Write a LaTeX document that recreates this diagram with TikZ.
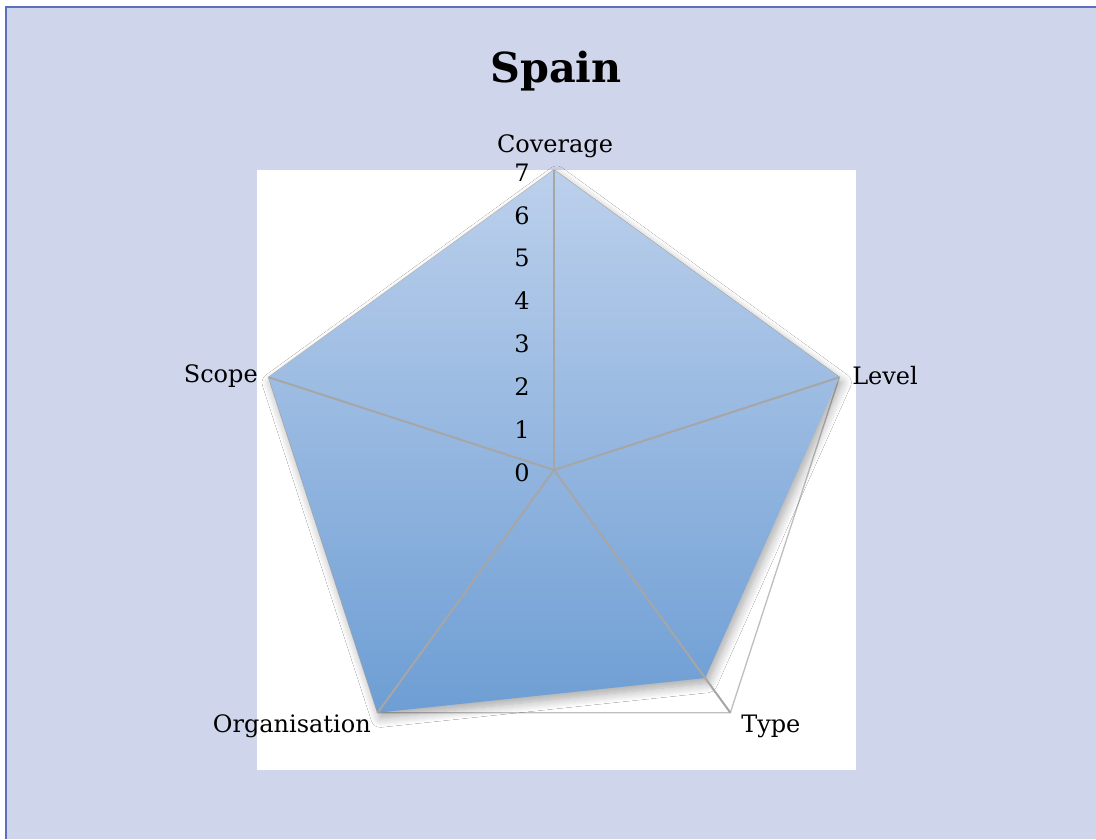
\documentclass[tikz,border=0pt]{standalone}
\usepackage{fontspec}
\setmainfont{DejaVu Serif}
\usetikzlibrary{shadows.blur}
\definecolor{chartbg}{RGB}{207,213,234}
\definecolor{chartedge}{RGB}{91,111,192}
\definecolor{gridgray}{RGB}{166,166,166}
\definecolor{ringgray}{RGB}{191,191,191}
\definecolor{filltop}{RGB}{188,208,236}
\definecolor{fillbot}{RGB}{110,158,212}
\tikzstyle{spoke} = [gridgray, line width=1.5pt]
\tikzstyle{axis label} = [font=\fontsize{18}{21}\selectfont, inner sep=0pt]

\begin{document}
\begin{tikzpicture}[x=0.75pt,y=0.75pt,tick/.style={font=\fontsize{18}{21}\selectfont, anchor=east, inner sep=0pt}]
\useasboundingbox (0,0) rectangle (1096,839);
\fill[white] (0,0) rectangle (1096,839);
\fill[chartbg] (6,0) rectangle (1096,832);
\draw[chartedge, line width=1.5pt] (6,0) -- (6,832) -- (1096,832);
\fill[white] (257,69) rectangle (856,669);
\coordinate (c) at (554,369);
\foreach \i/\v in {1/7,2/7,3/6,4/7,5/7} {
  \path (c) ++({90-72*(\i-1)}:300) coordinate (a\i);
  \path (c) ++({90-72*(\i-1)}:{300*\v/7}) coordinate (d\i);
}
% outer ring
\draw[ringgray, line width=1pt] (a1) -- (a2) -- (a3) -- (a4) -- (a5) -- cycle;
% data
\path[top color=filltop, bottom color=fillbot,
  blur shadow={shadow xshift=2pt, shadow yshift=-4pt, shadow blur radius=7pt,
    shadow blur steps=10, shadow opacity=35}]
  (d1) -- (d2) -- (d3) -- (d4) -- (d5) -- cycle;
\foreach \i in {1,...,5}
  \draw[spoke] (c) -- (a\i);
\foreach \k in {0,...,7}
  \node[tick] (t\k) at (530, {369-2.5+300*\k/7}) {\k};
\node[axis label, anchor=base] (coverage) at (555,686) {Coverage};
\node[axis label, anchor=base west] (level) at (852,454) {Level};
\node[axis label, anchor=base west] (type) at (741,106) {Type};
\node[axis label, anchor=base east] (organisation) at (371,106) {Organisation};
\node[axis label, anchor=base east] (scope) at (258,456) {Scope};
\node[font=\bfseries\fontsize{31}{37}\selectfont, anchor=base] (title) at (556,756) {Spain};
\end{tikzpicture}
\end{document}
